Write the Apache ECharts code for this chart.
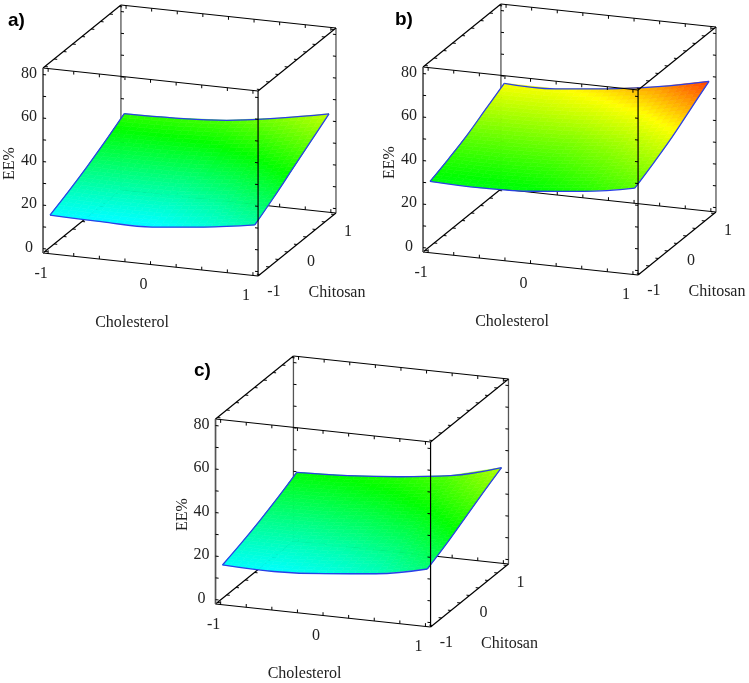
<!DOCTYPE html>
<html>
<head>
<meta charset="utf-8">
<style>
  html, body { margin: 0; padding: 0; background: #fff; }
  #chartBody { width: 749px; height: 683px; }
</style>
</head>
<body>
<div id="chartBody"></div>
<script src="https://cdn.jsdelivr.net/npm/echarts@6/dist/echarts.min.js"></script>
<script>
// values, rows = chitosan, columns = cholesterol
const cholesterolLevels = [-1, -0.5, 0, 0.5, 1]
const chitosanLevels = [-1, -0.5, 0, 0.5, 1]
const eeA = [
  [15, 14.5, 14.5, 17, 20.5],
  [19, 18.5, 19, 21.5, 26],
  [23.5, 23.5, 24, 27, 32],
  [28.5, 29, 30, 33, 38],
  [34, 34.5, 36, 39.5, 44]
]
const eeB = [
  [30, 29.5, 30.5, 33, 37],
  [33.5, 33.5, 34.5, 37.5, 41.5],
  [37.5, 38, 39, 42, 46.5],
  [42.5, 43, 44.5, 47.5, 52.5],
  [47.5, 47.5, 50, 53.5, 58.5]
]
const eeC = [
  [15.5, 15, 16.5, 19, 23.7],
  [18.5, 18.5, 20, 23, 28],
  [22, 22.5, 24.5, 27.5, 33],
  [26, 27, 29, 32.5, 38],
  [30.5, 31.5, 33.5, 36.5, 42.7]
]
const panelNames = ['a)', 'b)', 'c)']
const eeTicks = [0, 10, 20, 30, 40, 50, 60, 70, 80]
const eeTickLabels = [0, 20, 40, 60, 80]
const factorTicks = [-1, -0.75, -0.5, -0.25, 0, 0.25, 0.5, 0.75, 1]
const factorTickLabels = [-1, 0, 1]
// colour ramp of the surface
const rampValues = [0, 15, 31, 48, 62]
const rampColors = ['#0000ff', '#00ffff', '#00ff00', '#ffff00', '#ff0000']

// cube limits
const F = 1.05, Z0 = -2, Z1 = 83
const panels = [
  { data: eeA, cx: 189.5, cy: 140.5, titleLeft: 8, titleTop: 11 },
  { data: eeB, cx: 569.5, cy: 139.5, titleLeft: 395, titleTop: 10 },
  { data: eeC, cx: 362, cy: 491.5, titleLeft: 194, titleTop: 361 }
]
const halfW = 175, halfH = 130

// parallel projection, one axis unit on the plane = one pixel
function project(c, h, z) {
  return [102.4 * c + 37.1 * h, -10.95 * c + 30 * h + 2.176 * (z - 40.5)]
}

function eeColor(v) {
  let i = 0
  while (i < rampValues.length - 2 && v > rampValues[i + 1]) i++
  let t = (v - rampValues[i]) / (rampValues[i + 1] - rampValues[i])
  t = Math.max(0, Math.min(1, t))
  return echarts.color.lerp(t, [rampColors[i], rampColors[i + 1]])
}

function lineEl(api, a, b, stroke, width) {
  let p = api.coord(project(a[0], a[1], a[2]))
  let q = api.coord(project(b[0], b[1], b[2]))
  return {
    type: 'line',
    shape: { x1: p[0], y1: p[1], x2: q[0], y2: q[1] },
    style: { stroke: stroke, lineWidth: width },
    silent: true
  }
}

function textEl(api, pos, dx, dy, text, rotation) {
  let p = api.coord(project(pos[0], pos[1], pos[2]))
  return {
    type: 'text',
    x: p[0] + dx,
    y: p[1] + dy,
    rotation: rotation || 0,
    silent: true,
    style: {
      text: String(text),
      fill: '#222',
      font: '16px "Liberation Serif"',
      align: 'center',
      verticalAlign: 'middle'
    }
  }
}

// edges and ticks behind the surface / in front of it
function backFrame(api) {
  const black = '#000', grey = '#555'
  let els = [
    lineEl(api, [-F, -F, Z0], [-F, F, Z0], black, 1.2),
    lineEl(api, [-F, F, Z0], [F, F, Z0], black, 1.2),
    lineEl(api, [-F, F, Z0], [-F, F, Z1], grey, 1.3),
    lineEl(api, [F, F, Z0], [F, F, Z1], grey, 1.3)
  ]
  eeTicks.forEach(z => {
    els.push(lineEl(api, [-F, F, z], [-F + 0.03, F, z], black, 1))
    els.push(lineEl(api, [F, F, z], [F - 0.03, F, z], black, 1))
  })
  factorTicks.forEach(t => {
    els.push(lineEl(api, [t, F, Z0], [t, F, Z0 + 1.5], black, 1))
    els.push(lineEl(api, [-F, t, Z0], [-F + 0.03, t, Z0], black, 1))
  })
  return { type: 'group', children: els }
}

function frontFrame(api) {
  const black = '#000', grey = '#555'
  let els = [
    lineEl(api, [-F, -F, Z0], [F, -F, Z0], black, 1.2),
    lineEl(api, [F, -F, Z0], [F, F, Z0], black, 1.2),
    lineEl(api, [-F, -F, Z1], [F, -F, Z1], black, 1.2),
    lineEl(api, [-F, F, Z1], [F, F, Z1], black, 1.2),
    lineEl(api, [-F, -F, Z1], [-F, F, Z1], black, 1.2),
    lineEl(api, [F, -F, Z1], [F, F, Z1], black, 1.2),
    lineEl(api, [-F, -F, Z0], [-F, -F, Z1], grey, 1.7),
    lineEl(api, [F, -F, Z0], [F, -F, Z1], black, 1.2)
  ]
  eeTicks.forEach(z => {
    els.push(lineEl(api, [-F, -F, z], [-F + 0.03, -F, z], black, 1))
    els.push(lineEl(api, [F, -F, z], [F - 0.03, -F, z], black, 1))
  })
  factorTicks.forEach(t => {
    els.push(lineEl(api, [t, -F, Z0], [t, -F, Z0 + 1.5], black, 1))
    els.push(lineEl(api, [t, -F, Z1], [t, -F, Z1 - 1.5], black, 1))
    els.push(lineEl(api, [t, F, Z1], [t, F, Z1 - 1.5], black, 1))
    els.push(lineEl(api, [F, t, Z0], [F - 0.03, t, Z0], black, 1))
    els.push(lineEl(api, [F, t, Z1], [F - 0.03, t, Z1], black, 1))
    els.push(lineEl(api, [-F, t, Z1], [-F + 0.03, t, Z1], black, 1))
  })
  // labels
  eeTickLabels.forEach(v => els.push(textEl(api, [-F, -F, v], -14, -1, v)))
  factorTickLabels.forEach(v => {
    els.push(textEl(api, [v, -F, Z0], -7, 20.5, v))
    els.push(textEl(api, [F, v, Z0], 14, 17, v))
  })
  els.push(textEl(api, [F, 0, Z0], 40, 48.5, 'Chitosan'))
  els.push(textEl(api, [0, -F, Z0], -18.5, 58.5, 'Cholesterol'))
  els.push(textEl(api, [-F, -F, 40.5], -33, 3, 'EE%', Math.PI / 2))
  return { type: 'group', children: els }
}

// one read cell of the table, shaded between its four corners
function surfaceCell(table, i, j, api) {
  const steps = 7
  const c0 = cholesterolLevels[i], c1 = cholesterolLevels[i + 1]
  const h0 = chitosanLevels[j], h1 = chitosanLevels[j + 1]
  const z00 = table[j][i], z10 = table[j][i + 1]
  const z01 = table[j + 1][i], z11 = table[j + 1][i + 1]
  const at = (s, t) => {
    let z = (1 - s) * (1 - t) * z00 + s * (1 - t) * z10 + (1 - s) * t * z01 + s * t * z11
    return { z: z, p: api.coord(project(c0 + (c1 - c0) * s, h0 + (h1 - h0) * t, z)) }
  }
  let els = []
  for (let m = 0; m < steps; m++) {
    for (let n = 0; n < steps; n++) {
      let s0 = m / steps, s1 = (m + 1) / steps, t0 = n / steps, t1 = (n + 1) / steps
      let col = eeColor(at((s0 + s1) / 2, (t0 + t1) / 2).z)
      els.push({
        type: 'polygon',
        shape: { points: [at(s0, t0).p, at(s1, t0).p, at(s1, t1).p, at(s0, t1).p] },
        style: { fill: col, stroke: col, lineWidth: 0.6 },
        silent: true
      })
    }
  }
  return { type: 'group', children: els }
}

// the four rims of a surface, each its own smoothed line
function rims(table) {
  return [
    cholesterolLevels.map((c, i) => project(c, -1, table[0][i])),
    chitosanLevels.map((h, j) => project(1, h, table[j][4])),
    cholesterolLevels.map((c, i) => project(c, 1, table[4][i])),
    chitosanLevels.map((h, j) => project(-1, h, table[j][0]))
  ]
}

let grids = [], xAxes = [], yAxes = [], series = [], titles = []
panels.forEach((panel, k) => {
  grids.push({ left: panel.cx - halfW, top: panel.cy - halfH, width: halfW * 2, height: halfH * 2 })
  xAxes.push({ gridIndex: k, type: 'value', min: -halfW, max: halfW, show: false })
  yAxes.push({ gridIndex: k, type: 'value', min: -halfH, max: halfH, show: false })
  titles.push({
    text: panelNames[k],
    left: panel.titleLeft,
    top: panel.titleTop,
    padding: 0,
    textStyle: { fontFamily: 'Liberation Sans', fontSize: 19, fontWeight: 'bold', color: '#000' }
  })
  let cells = []
  for (let j = 0; j < chitosanLevels.length - 1; j++) {
    for (let i = 0; i < cholesterolLevels.length - 1; i++) cells.push([i, j])
  }
  const common = { xAxisIndex: k, yAxisIndex: k, coordinateSystem: 'cartesian2d', silent: true, animation: false, clip: false }
  series.push(Object.assign({}, common, {
    type: 'custom', z: 1, data: [[0, 0]],
    renderItem: (params, api) => backFrame(api)
  }))
  series.push(Object.assign({}, common, {
    type: 'custom', z: 2, data: cells,
    renderItem: (params, api) => surfaceCell(panel.data, api.value(0), api.value(1), api)
  }))
  rims(panel.data).forEach(rim => {
    series.push(Object.assign({}, common, {
      type: 'line', z: 3, data: rim, showSymbol: false, symbol: 'none', smooth: 0.4,
      lineStyle: { color: '#2a3fe8', width: 1.3 }
    }))
  })
  series.push(Object.assign({}, common, {
    type: 'custom', z: 4, data: [[0, 0]],
    renderItem: (params, api) => frontFrame(api)
  }))
})

const chart = echarts.init(document.getElementById('chartBody'), null, { renderer: 'canvas' })
chart.setOption({
  animation: false,
  backgroundColor: '#fff',
  title: titles,
  grid: grids,
  xAxis: xAxes,
  yAxis: yAxes,
  series: series
})
</script>
</body>
</html>
